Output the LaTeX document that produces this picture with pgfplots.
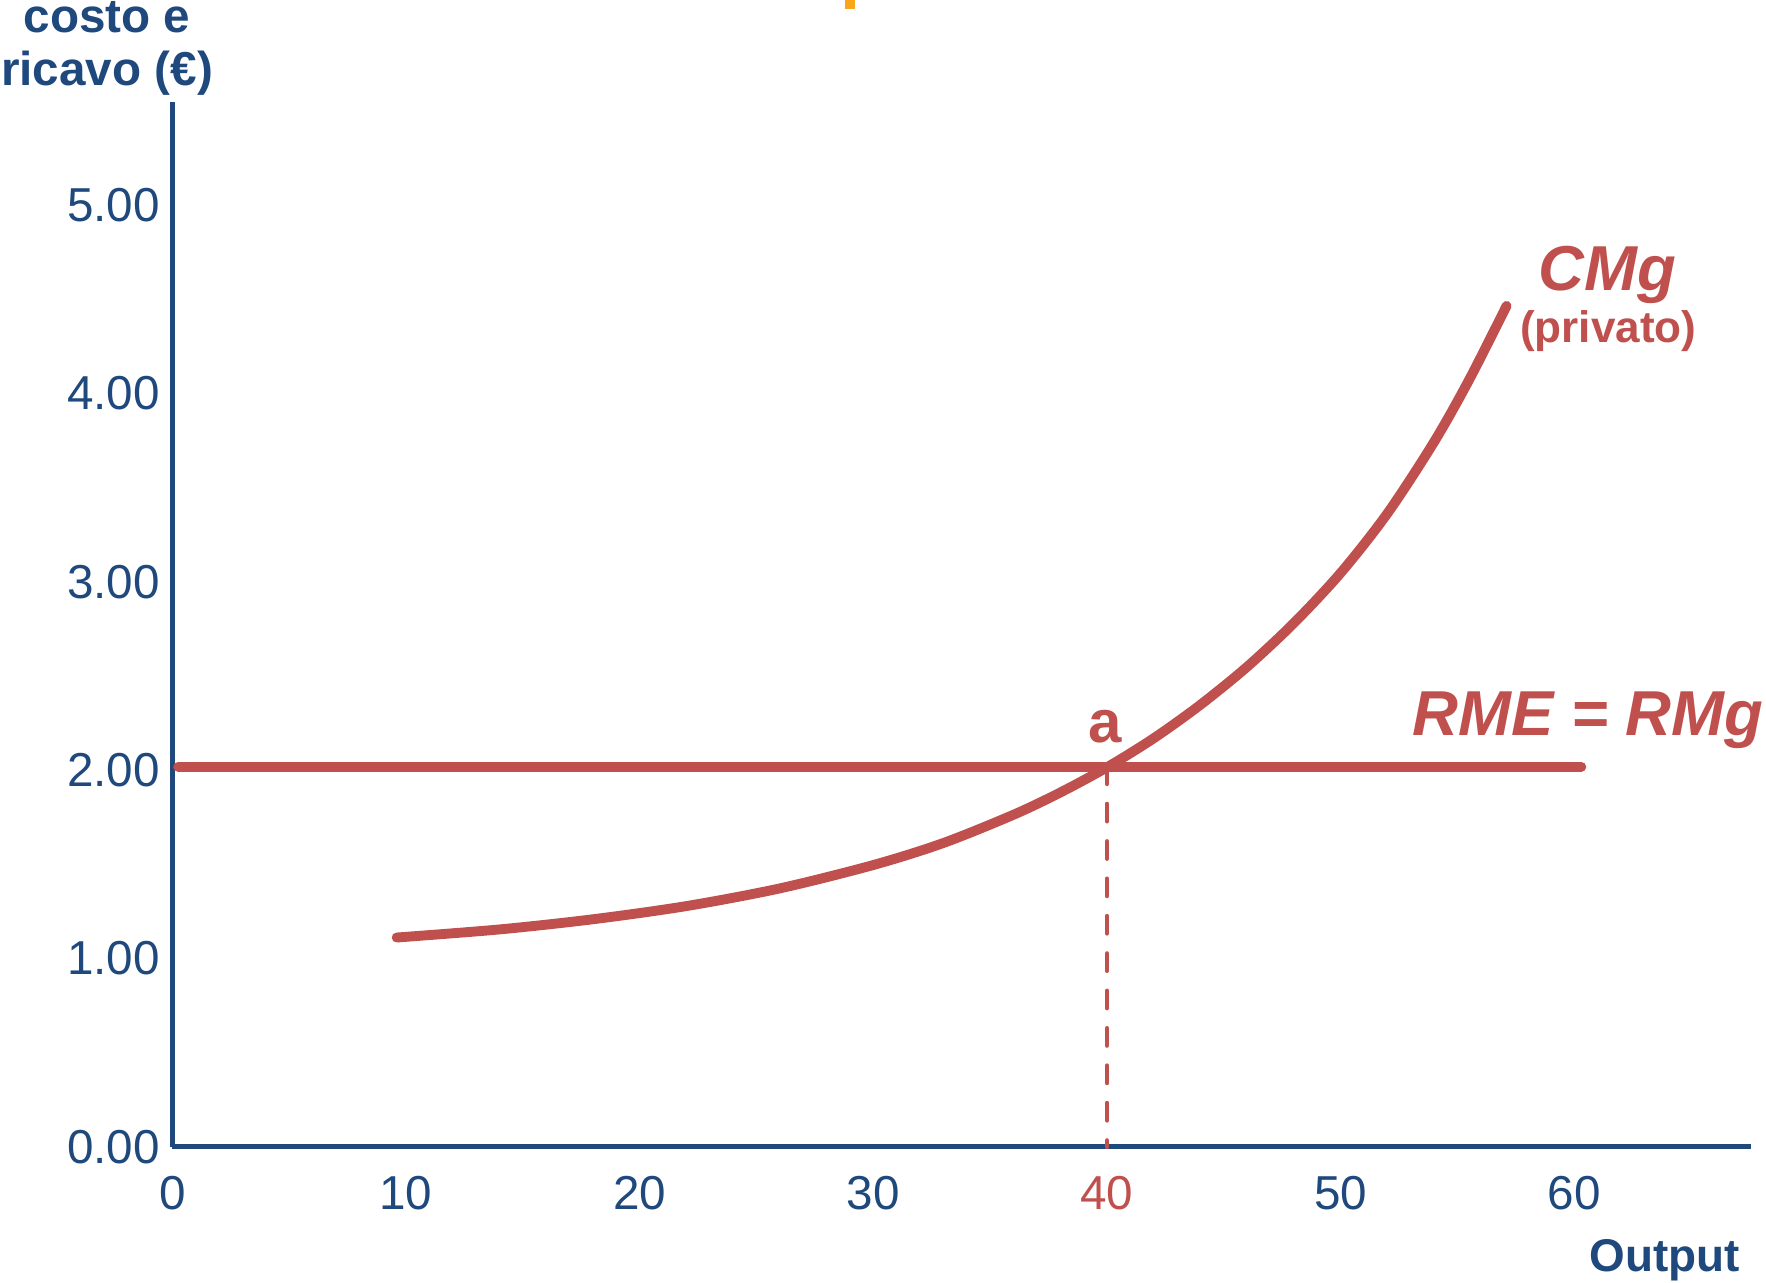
\documentclass[border=0pt]{standalone}
\usepackage{fontspec}
\setmainfont{Liberation Sans}
\usepackage{pgfplots}
\pgfplotsset{compat=1.18}
\definecolor{axisblue}{HTML}{1F497D}
\definecolor{cred}{HTML}{C0504D}
\definecolor{markorange}{HTML}{F9A61A}

\begin{document}
\begin{tikzpicture}
\begin{axis}[
  scale only axis,
  width=447.6pt, height=296.3pt,
  xmin=0, xmax=67.57, ymin=0, ymax=5.55,
  axis lines=left,
  axis line style={-, line width=1.3pt, axisblue},
  xtick={0,10,...,60}, ytick={0,1,...,5},
  xticklabels={0,10,20,30,\textcolor{cred}{40},50,60},
  yticklabels={0.00,1.00,2.00,3.00,4.00,5.00},
  major tick length=0pt,
  tick label style={font=\fontsize{13.5}{16}\selectfont, text=axisblue},
  xticklabel style={yshift=-4.7pt},
  /pgf/number format/assume math mode=true,
  clip=false,
]
\coordinate (O) at (axis cs:0,0);

% private marginal cost
\addplot[cred, line width=2.8pt, line cap=round, smooth, tension=0.5] coordinates {
  (9.6,1.111) (14,1.154) (18,1.208) (22,1.278) (26,1.372) (30,1.496)
  (33,1.613) (36,1.763) (38,1.881) (40,2.015) (42,2.169) (44,2.347)
  (46,2.549) (48,2.781) (50,3.047) (52,3.363) (54,3.743) (55.5,4.073) (57.1,4.465)
};

% average = marginal revenue
\addplot[cred, line width=2.8pt, line cap=round] coordinates {(0.25,2.018) (60.3,2.018)};

% output at point a
\addplot[cred, line width=1.4pt, line cap=round, dash pattern=on 4.8pt off 5.8pt] coordinates {(40,2.018) (40,0)};

\node[anchor=base, text=cred, font=\fontsize{18}{21}\selectfont\bfseries\itshape] at (axis cs:61.4,4.549) {CMg};
\node[anchor=base, text=cred, font=\fontsize{12.5}{15}\selectfont\bfseries] at (axis cs:61.45,4.268) {(privato)};
\node[anchor=base, text=cred, font=\fontsize{18}{21}\selectfont\bfseries\itshape] at (axis cs:60.58,2.186) {RME = RMg};
\node[anchor=base, text=cred, font=\fontsize{17}{20}\selectfont\bfseries] at (axis cs:39.91,2.147) {a};

\node[anchor=base east, inner sep=0pt, xshift=-3.1pt, yshift=-35.4pt, text=axisblue,
      font=\fontsize{13}{15}\selectfont\bfseries] at (rel axis cs:1,0) {Output};
\node[anchor=south, align=center, xshift=-18.5pt, yshift=1.6pt, inner sep=0pt, text=axisblue,
      font=\fontsize{13.5}{15}\selectfont\bfseries] at (rel axis cs:0,1) {costo e\\ricavo (€)};
\end{axis}
\fill[markorange] ([xshift=190.7pt,yshift=322.5pt]O) rectangle ([xshift=193.5pt,yshift=325.1pt]O);
\pgfresetboundingbox
\path[use as bounding box] ([xshift=-48.85pt,yshift=-38.4pt]O) rectangle ([xshift=451.8pt,yshift=325.1pt]O);
\end{tikzpicture}
\end{document}
